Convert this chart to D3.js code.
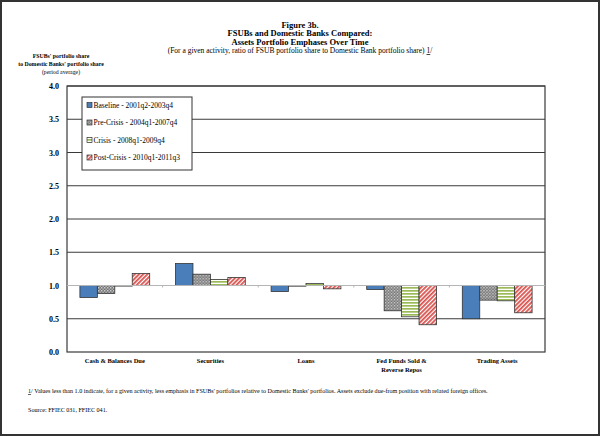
<!DOCTYPE html>
<html>
<head>
<meta charset="utf-8">
<script src="https://cdn.jsdelivr.net/npm/d3@7"></script>
<style>
  body { margin: 0; background: #fff; }
  svg { display: block; font-family: "Liberation Serif", "Times New Roman", serif; }
  svg text { fill: #000; }
</style>
</head>
<body>
<div id="chart"></div>
<script>
// Chart data
var categories = ['Cash & Balances Due', 'Securities', 'Loans', 'Fed Funds Sold & Reverse Repos', 'Trading Assets'];
var seriesNames = ['Baseline - 2001q2-2003q4', 'Pre-Crisis - 2004q1-2007q4', 'Crisis - 2008q1-2009q4', 'Post-Crisis - 2010q1-2011q3'];
var baseline = [0.82, 1.33, 0.91, 0.94, 0.50];
var preCrisis = [0.88, 1.17, 0.99, 0.62, 0.78];
var crisis = [1.00, 1.09, 1.03, 0.53, 0.77];
var postCrisis = [1.18, 1.12, 0.95, 0.41, 0.59];
var yTicks = [0.0, 0.5, 1.0, 1.5, 2.0, 2.5, 3.0, 3.5, 4.0];

var seriesValues = [baseline, preCrisis, crisis, postCrisis];

var svgWidth = 600, svgHeight = 436;
var margin = { top: 86, right: 55, bottom: 84, left: 67 };
var width = svgWidth - margin.left - margin.right;
var height = svgHeight - margin.top - margin.bottom;

var svg = d3.select('#chart').append('svg')
    .attr('width', svgWidth)
    .attr('height', svgHeight);

// patterns for the bar fills
var defs = svg.append('defs');

var p1 = defs.append('pattern').attr('id', 'pat1')
    .attr('width', 3).attr('height', 3).attr('patternUnits', 'userSpaceOnUse');
p1.append('rect').attr('width', 3).attr('height', 3).attr('fill', '#6e6e6e');
p1.append('rect').attr('x', 0).attr('y', 0).attr('width', 1.5).attr('height', 1.5).attr('fill', '#d0d0d0');
p1.append('rect').attr('x', 1.5).attr('y', 1.5).attr('width', 1.5).attr('height', 1.5).attr('fill', '#b0b0b0');

var p2 = defs.append('pattern').attr('id', 'pat2')
    .attr('width', 3).attr('height', 3).attr('patternUnits', 'userSpaceOnUse');
p2.append('rect').attr('width', 3).attr('height', 3).attr('fill', '#ffffff');
p2.append('rect').attr('width', 3).attr('height', 1.7).attr('fill', '#9bbb59');

var p3 = defs.append('pattern').attr('id', 'pat3')
    .attr('width', 3).attr('height', 3).attr('patternUnits', 'userSpaceOnUse')
    .attr('patternTransform', 'rotate(45)');
p3.append('rect').attr('width', 3).attr('height', 3).attr('fill', '#ffffff');
p3.append('rect').attr('width', 1.8).attr('height', 3).attr('fill', '#d9534f');

var fills = ['#4a7ebb', 'url(#pat1)', 'url(#pat2)', 'url(#pat3)'];

// outer frame
svg.append('rect')
    .attr('x', 1).attr('y', 1)
    .attr('width', svgWidth - 2).attr('height', svgHeight - 2)
    .attr('fill', 'none').attr('stroke', '#333').attr('stroke-width', 2);

// titles
var titles = ['Figure 3b.', 'FSUBs and Domestic Banks Compared:', 'Assets Portfolio Emphases Over Time'];
svg.selectAll('.title').data(titles).enter().append('text')
    .attr('x', 300).attr('y', (d, i) => 27.5 + i * 8.8)
    .attr('text-anchor', 'middle')
    .style('font-size', '8.5px').style('font-weight', 'bold')
    .text(d => d);

var sub = svg.append('text')
    .attr('x', 300).attr('y', 53)
    .attr('text-anchor', 'middle')
    .style('font-size', '7.5px');
sub.append('tspan').text('(For a given activity, ratio of  FSUB portfolio share to Domestic Bank portfolio share) ');
sub.append('tspan').attr('text-decoration', 'underline').text('1');
sub.append('tspan').text('/');

// y axis title
var yTitle = ['FSUBs\' portfolio share', 'to Domestic Banks\' portfolio share'];
svg.selectAll('.ytitle').data(yTitle).enter().append('text')
    .attr('x', 61).attr('y', (d, i) => 58 + i * 8)
    .attr('text-anchor', 'middle')
    .style('font-size', '5.8px').style('font-weight', 'bold')
    .text(d => d);
svg.append('text')
    .attr('x', 61).attr('y', 74)
    .attr('text-anchor', 'middle')
    .style('font-size', '5.8px')
    .text('(period average)');

var chartGroup = svg.append('g')
    .attr('transform', `translate(${margin.left}, ${margin.top})`);

// scales
var x0 = d3.scaleBand()
    .domain(categories)
    .range([0, width])
    .paddingInner(0.27)
    .paddingOuter(0.135);

var x1 = d3.scaleBand()
    .domain(d3.range(seriesNames.length))
    .range([0, x0.bandwidth()]);

var y = d3.scaleLinear()
    .domain([0, 4])
    .range([height, 0]);

// gridlines (not at 1.0, where the category axis sits)
chartGroup.selectAll('.grid')
    .data(yTicks.filter(d => d !== 1.0 && d !== 0))
    .enter().append('line')
    .attr('x1', 0).attr('x2', width)
    .attr('y1', d => y(d)).attr('y2', d => y(d))
    .attr('stroke', '#3a3a3a').attr('stroke-width', 1.2);

// y axis
var leftAxis = d3.axisLeft(y)
    .tickValues(yTicks)
    .tickFormat(d3.format('.1f'))
    .tickSize(0)
    .tickPadding(8);

var yAxisG = chartGroup.append('g').call(leftAxis);
yAxisG.select('.domain').remove();
yAxisG.selectAll('text')
    .style('font-family', '"Liberation Serif", serif')
    .style('font-size', '8px').style('font-weight', 'bold')
    .attr('fill', '#000');

// plot frame
chartGroup.append('rect')
    .attr('x', 0).attr('y', 0)
    .attr('width', width).attr('height', height)
    .attr('fill', 'none').attr('stroke', '#3a3a3a').attr('stroke-width', 1.2);

// bars (drawn from 1.0)
var groups = chartGroup.selectAll('.grp')
    .data(categories)
    .enter().append('g')
    .attr('transform', d => `translate(${x0(d)}, 0)`);

groups.selectAll('rect')
    .data((d, ci) => seriesValues.map((s, si) => ({ si: si, v: s[ci] })))
    .enter().append('rect')
    .attr('x', d => x1(d.si))
    .attr('width', x1.bandwidth())
    .attr('y', d => y(Math.max(d.v, 1)))
    .attr('height', d => Math.max(Math.abs(y(d.v) - y(1)), 0.6))
    .attr('fill', d => fills[d.si])
    .attr('stroke', '#333')
    .attr('stroke-width', 0.8);

// category axis at 1.0
chartGroup.append('line')
    .attr('x1', 0).attr('x2', width)
    .attr('y1', y(1)).attr('y2', y(1))
    .attr('stroke', '#b5b5b5').attr('stroke-width', 1);

var step = width / categories.length;
chartGroup.selectAll('.ctick')
    .data(d3.range(1, categories.length))
    .enter().append('line')
    .attr('x1', d => d * step).attr('x2', d => d * step)
    .attr('y1', y(1)).attr('y2', y(1) + 2)
    .attr('stroke', '#b5b5b5').attr('stroke-width', 1);

// category labels below the plot
var catLines = [['Cash & Balances Due'], ['Securities'], ['Loans'], ['Fed Funds Sold &', 'Reverse Repos'], ['Trading Assets']];
categories.forEach(function(c, i) {
    var t = chartGroup.append('text')
        .attr('x', x0(c) + x0.bandwidth() / 2)
        .attr('y', height + 11)
        .attr('text-anchor', 'middle')
        .style('font-size', '6.5px').style('font-weight', 'bold');
    catLines[i].forEach(function(line, j) {
        t.append('tspan')
            .attr('x', x0(c) + x0.bandwidth() / 2)
            .attr('dy', j === 0 ? 0 : 8.5)
            .text(line);
    });
});

// legend
var legend = chartGroup.append('g').attr('transform', 'translate(15, 11)');
legend.append('rect')
    .attr('width', 110).attr('height', 73)
    .attr('fill', '#fff').attr('stroke', '#333').attr('stroke-width', 1);

var items = legend.selectAll('.item')
    .data(seriesNames)
    .enter().append('g')
    .attr('transform', (d, i) => `translate(5, ${10 + i * 17.5})`);
items.append('rect')
    .attr('x', 0).attr('y', -4.5)
    .attr('width', 5).attr('height', 5)
    .attr('fill', (d, i) => fills[i])
    .attr('stroke', '#333').attr('stroke-width', 0.7);
items.append('text')
    .attr('x', 6.5).attr('y', 0.8)
    .style('font-size', '7.5px')
    .text(d => d);

// footnotes
var fn = svg.append('text')
    .attr('x', 28).attr('y', 393)
    .style('font-size', '6.1px');
fn.append('tspan').attr('text-decoration', 'underline').text('1');
fn.append('tspan').text('/ Values less than 1.0 indicate, for a given activity, less emphasis in FSUBs\' portfolios relative to Domestic Banks\' portfolios.   Assets exclude due-from position with related foreign offices.');

svg.append('text')
    .attr('x', 28).attr('y', 412)
    .style('font-size', '6.1px')
    .text('Source: FFIEC 031, FFIEC 041.');
</script>
</body>
</html>
